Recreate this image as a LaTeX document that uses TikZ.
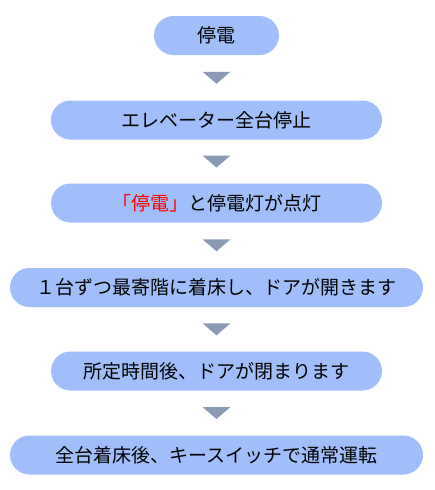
\documentclass[tikz,border=0pt]{standalone}
\usepackage{fontspec}
\newfontfamily\jpfont{Noto Sans CJK JP}
\usetikzlibrary{calc}
\definecolor{boxblue}{RGB}{160,191,250}
\definecolor{arrowgray}{RGB}{136,154,180}

\begin{document}
\begin{tikzpicture}[x=1pt,y=-1pt,
  box/.style={fill=boxblue,rounded corners=19.5pt,minimum height=39pt,inner sep=0pt,
    font=\jpfont\fontsize{19}{21}\selectfont},
  downtri/.style={fill=arrowgray}]
  \useasboundingbox (0,0) rectangle (435,490);
  \node[box,minimum width=125pt] (n1) at (216.5,35.5) {停電};
  \node[box,minimum width=331pt] (n2) at (216.5,120) {エレベーター全台停止};
  \node[box,minimum width=331pt] (n3) at (216.5,203) {\textcolor{red}{「停電」}と停電灯が点灯};
  \node[box,minimum width=413pt] (n4) at (216.5,287.5) {１台ずつ最寄階に着床し、ドアが開きます};
  \node[box,minimum width=331pt] (n5) at (216.5,371) {所定時間後、ドアが閉まります};
  \node[box,minimum width=413pt] (n6) at (216.5,455) {全台着床後、キースイッチで通常運転};
  % arrows between steps
  \foreach \a/\b in {n1/n2,n2/n3,n3/n4,n4/n5,n5/n6}
    \fill[downtri] ($(\a.south)!0.5!(\b.north)$) ++(-14,-6) -- ++(28,0) -- ++(-14,12) -- cycle;
\end{tikzpicture}
\end{document}
